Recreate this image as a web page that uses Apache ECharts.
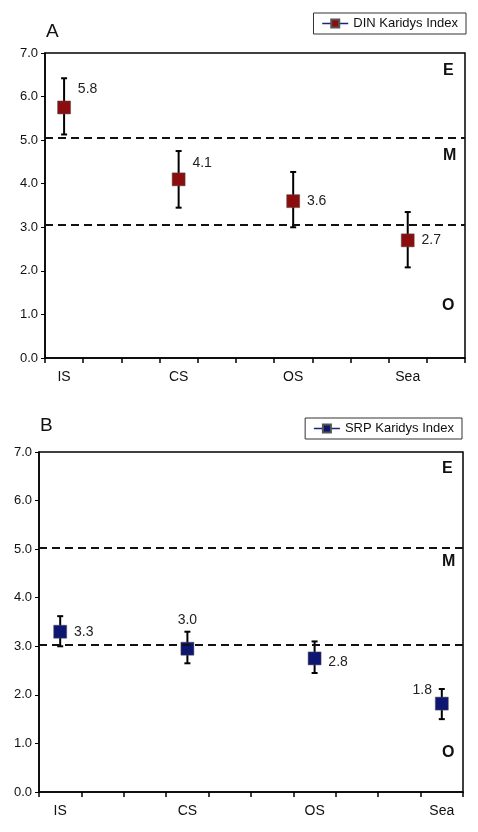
<!DOCTYPE html>
<html>
<head>
<meta charset="utf-8">
<script src="https://cdn.jsdelivr.net/npm/echarts@6/dist/echarts.min.js"></script>
<style>html,body{margin:0;padding:0;background:#fff}#main{width:478px;height:832px}</style>
</head>
<body>
<div id="main"></div>
<script>
// slot categories: sites sit at slots 0,3,6,9
var slotsA = ['IS', '', '', 'CS', '', '', 'OS', '', '', 'Sea', ''];
var slotsB = ['IS', '', '', 'CS', '', '', 'OS', '', '', 'Sea'];
var siteSlots = [0, 3, 6, 9];

var dinMean = [5.75, 4.1, 3.6, 2.7];
var dinLow = [5.13, 3.45, 3.0, 2.08];
var dinHigh = [6.42, 4.75, 4.27, 3.35];
var dinLabels = ['5.8', '4.1', '3.6', '2.7'];

var srpMean = [3.3, 2.95, 2.75, 1.82];
var srpLow = [3.0, 2.65, 2.45, 1.5];
var srpHigh = [3.62, 3.3, 3.1, 2.12];
var srpLabels = ['3.3', '3.0', '2.8', '1.8'];

var thresholdsA = [5.05, 3.06];
var thresholdsB = [5.02, 3.03];

var yTicks = [0, 7, 1];

var chart = echarts.init(document.getElementById('main'));
var font = 'Liberation Sans, Arial, sans-serif';

function errorSeries(idx, low, high) {
  return {
    type: 'custom', xAxisIndex: idx, yAxisIndex: idx, z: 2,
    data: siteSlots.map(function (s, i) { return [s, low[i], high[i]]; }),
    renderItem: function (params, api) {
      var lo = api.coord([api.value(0), api.value(1)]);
      var hi = api.coord([api.value(0), api.value(2)]);
      var w = 3;
      var st = { stroke: '#000', lineWidth: 2 };
      return { type: 'group', children: [
        { type: 'line', shape: { x1: lo[0], y1: lo[1], x2: hi[0], y2: hi[1] }, style: st },
        { type: 'line', shape: { x1: lo[0] - w, y1: lo[1], x2: lo[0] + w, y2: lo[1] }, style: st },
        { type: 'line', shape: { x1: hi[0] - w, y1: hi[1], x2: hi[0] + w, y2: hi[1] }, style: st }
      ]};
    }
  };
}

function meanSeries(name, idx, mean, labels, color, labelPos) {
  return {
    name: name, type: 'line', xAxisIndex: idx, yAxisIndex: idx, z: 3,
    symbol: 'rect', symbolSize: 13,
    itemStyle: { color: color, borderColor: '#555', borderWidth: 0.5 },
    lineStyle: { width: 0, color: '#1a237e' },
    data: siteSlots.map(function (s, i) {
      return { value: [s, mean[i]], label: { show: true, formatter: labels[i],
        position: labelPos[i][0], offset: labelPos[i][1] } };
    }),
    label: { color: '#222', fontSize: 14, fontFamily: font },
    markLine: {
      silent: true, symbol: 'none', label: { show: false },
      lineStyle: { type: [8, 5], color: '#111', width: 2 },
      data: (idx === 0 ? thresholdsA : thresholdsB).map(function (v) { return { yAxis: v }; })
    }
  };
}

function xAxis(idx, slots) {
  return {
    type: 'category', gridIndex: idx, data: slots, boundaryGap: true,
    axisLine: { lineStyle: { color: '#000', width: 1.5 } },
    axisTick: { show: true, length: 5, interval: 0, lineStyle: { color: '#000', width: 1.5 } },
    axisLabel: { interval: 0, color: '#111', fontSize: 14, fontFamily: font, margin: 12 }
  };
}
function yAxis(idx) {
  return {
    type: 'value', gridIndex: idx, min: yTicks[0], max: yTicks[1], interval: yTicks[2],
    axisLine: { show: true, lineStyle: { color: '#000', width: 1.5 } },
    axisTick: { show: true, length: 4, lineStyle: { color: '#000' } },
    splitLine: { show: false },
    axisLabel: { color: '#111', fontSize: 13, fontFamily: font, margin: 7,
      formatter: function (v) { return v.toFixed(1); } }
  };
}

var zoneText = function (x, y, t) {
  return { type: 'text', left: x, top: y, style: { text: t, font: 'bold 16px ' + font, fill: '#111' } };
};

var legendBase = { padding: [4, 8], itemWidth: 26, itemHeight: 10,
  borderColor: '#333', borderWidth: 1, textStyle: { fontSize: 13, fontFamily: font, color: '#111' },
  lineStyle: { width: 1.5, color: '#1a237e' } };

chart.setOption({
  animation: false,
  grid: [
    { left: 45, right: 13, top: 53, bottom: 474, show: true, borderColor: '#000', borderWidth: 1.5 },
    { left: 39, right: 15, top: 452, bottom: 40, show: true, borderColor: '#000', borderWidth: 1.5 }
  ],
  legend: [
    Object.assign({ data: ['DIN Karidys Index'], right: 12, top: 13 }, legendBase),
    Object.assign({ data: ['SRP Karidys Index'], right: 16, top: 418 }, legendBase)
  ],
  xAxis: [xAxis(0, slotsA), xAxis(1, slotsB)],
  yAxis: [yAxis(0), yAxis(1)],
  series: [
    errorSeries(0, dinLow, dinHigh),
    meanSeries('DIN Karidys Index', 0, dinMean, dinLabels, '#8b0d0d',
      [['right', [2, -18]], ['right', [2, -16]], ['right', [2, 0]], ['right', [2, 0]]]),
    errorSeries(1, srpLow, srpHigh),
    meanSeries('SRP Karidys Index', 1, srpMean, srpLabels, '#0d1670',
      [['right', [2, 0]], ['top', [0, -10]], ['right', [2, 4]], ['left', [2, -13]]])
  ],
  graphic: [
    { type: 'text', left: 46, top: 22, style: { text: 'A', font: '19px ' + font, fill: '#111' } },
    { type: 'text', left: 40, top: 416, style: { text: 'B', font: '19px ' + font, fill: '#111' } },
    zoneText(443, 63, 'E'), zoneText(443, 148, 'M'), zoneText(442, 298, 'O'),
    zoneText(442, 461, 'E'), zoneText(442, 554, 'M'), zoneText(442, 745, 'O')
  ]
});
</script>
</body>
</html>
